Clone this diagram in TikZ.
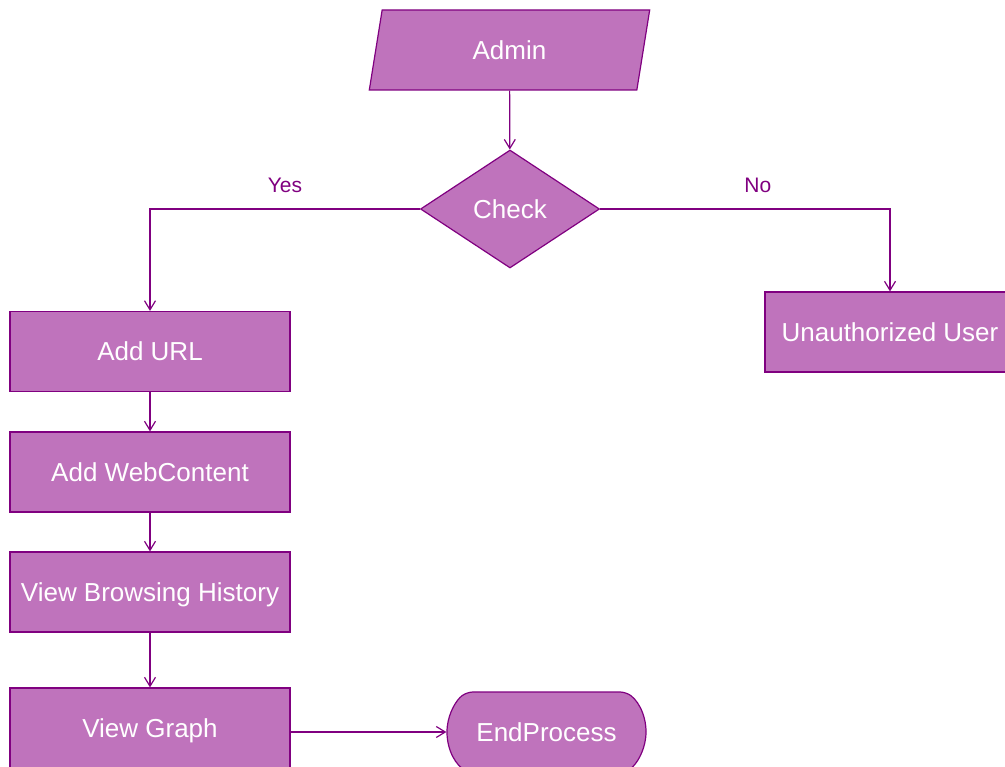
\documentclass[tikz,border=0pt]{standalone}
\usepackage{fontspec}
\setmainfont{Liberation Sans}
\usetikzlibrary{arrows.meta,shapes.geometric,shapes.misc}
\definecolor{boxfill}{HTML}{BF73BC}
\definecolor{boxline}{HTML}{800080}
\begin{document}
\begin{tikzpicture}[
            x=1pt,y=-1pt,
            >={Straight Barb[length=9pt,width=11pt]},
            base/.style={draw=boxline,fill=boxfill,line width=1.2pt,text=white,
                         inner sep=0pt,text height=18.6pt,text depth=0pt,
                         font=\fontsize{26}{30}\selectfont},
            proc/.style={base,rectangle,minimum width=280pt,minimum height=80pt},
            io/.style={base,trapezium,trapezium stretches=true,
                       trapezium left angle=78.7,trapezium right angle=101.3,
                       minimum width=281pt,minimum height=80pt},
            decision/.style={base,diamond,minimum width=179pt,minimum height=118pt},
            term/.style={base,rounded rectangle,rounded rectangle arc length=106,
                         rounded corners=6pt,minimum width=199pt,minimum height=80pt},
            lab/.style={text=boxline,inner sep=0pt,font=\fontsize{21}{24}\selectfont},
            line/.style={->,draw=boxline,line width=1.2pt}
        ]
        \useasboundingbox (0,0) rectangle (1005,767);
        \node[io] (admin) at (509.5,50) {Admin};
        \node[decision] (check) at (510,209) {Check};
        \node[proc] (addurl) at (150,351.5) {Add URL};
        \node[proc] (addweb) at (150,472) {Add WebContent};
        \node[proc] (history) at (150,592) {View Browsing History};
        \node[proc] (graph) at (150,728) {View Graph};
        \node[term] (endproc) at (546.5,732) {EndProcess};
        \node[proc,minimum width=250pt] (unauth) at (890,332) {Unauthorized User};
        % decision branches
        \draw[line] (admin) -- (check);
        \draw[line] (check.west) -| node[pos=0.25,above=16pt,lab]{Yes} (addurl.north);
        \draw[line] (check.east) -| node[pos=0.272,above=16pt,lab]{No} (unauth.north);
        % admin steps
        \draw[line] (addurl) -- (addweb);
        \draw[line] (addweb) -- (history);
        \draw[line] (history) -- (graph);
        \draw[line] (graph.east |- endproc) -- (endproc);
\end{tikzpicture}
\end{document}
